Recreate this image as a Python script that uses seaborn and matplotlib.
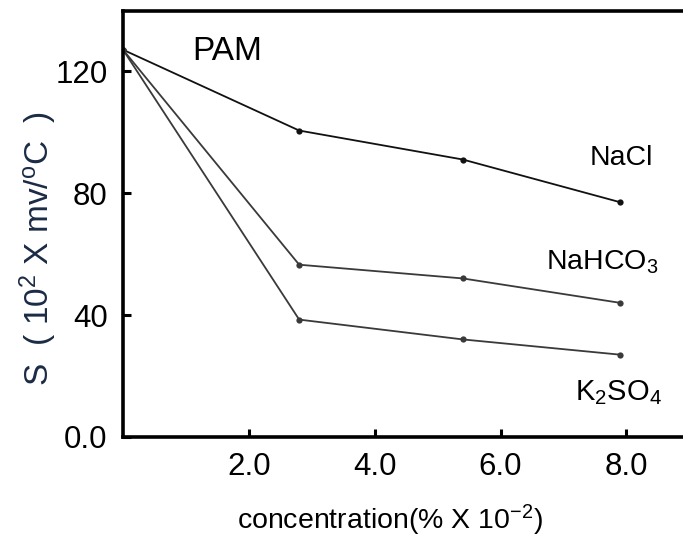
import matplotlib
matplotlib.use("Agg")
import matplotlib.pyplot as plt
import seaborn as sns
import pandas as pd

# Concentration (% x 10^-2) and sensitivity S (10^2 x mV/°C) for PAM in each salt
concentration = [0.0, 2.8, 5.4, 7.9]
s_nacl = [127, 100.5, 91, 77]
s_nahco3 = [127, 56.5, 52, 44]
s_k2so4 = [127, 38.5, 32, 27]

salt_labels = ["NaCl", "NaHCO$_3$", "K$_2$SO$_4$"]
x_ticks = [2.0, 4.0, 6.0, 8.0]
x_tick_labels = ["2.0", "4.0", "6.0", "8.0"]
y_ticks = [0, 40, 80, 120]
y_tick_labels = ["0.0", "40", "80", "120"]

sns.set_theme(style="ticks")

family = "Liberation Sans"
plt.rcParams["font.family"] = [family, "DejaVu Sans"]
plt.rcParams["mathtext.fontset"] = "custom"
plt.rcParams["mathtext.rm"] = family
plt.rcParams["mathtext.it"] = family
plt.rcParams["mathtext.default"] = "regular"

df = pd.DataFrame({
    "concentration": concentration * 3,
    "S": s_nacl + s_nahco3 + s_k2so4,
    "salt": ["NaCl"] * 4 + ["NaHCO3"] * 4 + ["K2SO4"] * 4,
})

fig = plt.figure(figsize=(6.83, 5.45), dpi=100)
W, H = 683, 545
left, right, top, bottom = 123, 683, 11, 437
ax = fig.add_axes([left / W, 1 - bottom / H, (right - left) / W, (bottom - top) / H])

sns.lineplot(
    data=df, x="concentration", y="S", hue="salt",
    palette={"NaCl": "#111111", "NaHCO3": "#3a3a3a", "K2SO4": "#3a3a3a"},
    marker="o", markersize=4.5, markeredgewidth=0, linewidth=1.3,
    legend=False, ax=ax,
)

ax.set_xlim(0, 8.9)
ax.set_ylim(0, 139.7)
ax.set_xticks(x_ticks)
ax.set_xticklabels(x_tick_labels)
ax.set_yticks(y_ticks)
ax.set_yticklabels(y_tick_labels)
ax.tick_params(direction="in", length=6, width=2.2, labelsize=22.5,
               colors="black", pad=11)
ax.tick_params(axis="x", pad=11)
for side in ["left", "top", "bottom"]:
    ax.spines[side].set_linewidth(2.6)
    ax.spines[side].set_color("black")
ax.spines["right"].set_visible(False)
ax.set_xlabel("")
ax.set_ylabel("")

# series names next to the curves
ax.text(1.106, 123.6, "PAM", fontsize=24, color="black", ha="left", va="baseline")
ax.text(7.42, 89.2, salt_labels[0], fontsize=20.5, color="black", ha="left", va="baseline")
ax.text(6.72, 54.8, salt_labels[1], fontsize=20.5, color="black", ha="left", va="baseline")
ax.text(7.19, 12.1, salt_labels[2], fontsize=21, color="black", ha="left", va="baseline")

fig.text(237 / W, 1 - 529 / H, "concentration(% X 10$^{-2}$)",
         fontsize=20.5, color="black", ha="left", va="baseline")
fig.text(38 / W, 1 - 248 / H, "S  ( 10$^2$ X mv/$^o$C  )",
         fontsize=24, color="#1b2b45", ha="center", va="center", rotation=90)

fig.savefig("out.png", dpi=100, facecolor="white")
